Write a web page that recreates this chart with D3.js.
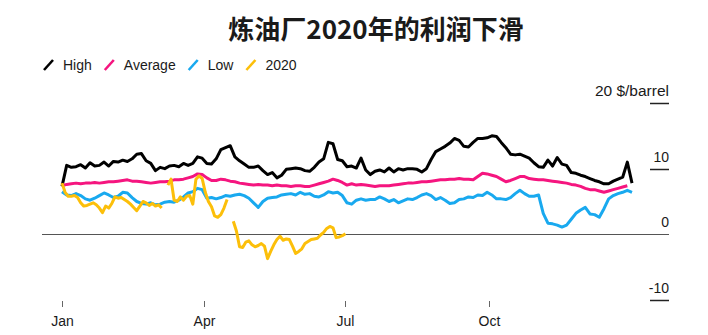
<!DOCTYPE html>
<html>
<head>
<meta charset="utf-8">
<script src="https://cdn.jsdelivr.net/npm/d3@7"></script>
<style>
  html, body { margin: 0; padding: 0; background: #fff; }
  svg { display: block; }
  text { font-family: "Liberation Sans", Arial, Helvetica, sans-serif; fill: #1a1a1a; }
  .title { font-family: "Noto Sans CJK SC", "Noto Sans", sans-serif; font-weight: 700; }
</style>
</head>
<body>
<svg id="chart" width="708" height="335"></svg>
<script>
// Refinery margins, $/barrel — 5-year high / average / low bands vs. 2020
const title = "炼油厂2020年的利润下滑";
const seriesNames = ["High", "Average", "Low", "2020"];
const seriesColors = ["#000000", "#f5157f", "#19a9ef", "#fcbf0a"];
const yTicks = [20, 10, 0, -10];
const unitLabel = "$/barrel";
const monthTicks = ["2020-01-01", "2020-04-01", "2020-07-01", "2020-10-01"];
const monthLabels = ["Jan", "Apr", "Jul", "Oct"];

// day-of-year offsets for each reading
const bandDays = d3.range(0, 367, 3);   // High / Average / Low
const daysOf2020 = d3.range(0, 183, 2); // 2020 (first half)

const high = [
  7.3, 10.5, 10.2, 10.3, 10.6, 10.1, 10.9, 10.4, 10.5, 11.0,
  10.4, 11.1, 11.0, 11.3, 11.1, 11.5, 12.2, 12.3, 11.2, 10.8,
  9.7, 10.2, 10.0, 10.4, 10.5, 10.3, 10.8, 10.5, 10.8, 11.8,
  11.6, 10.8, 10.7, 11.5, 12.9, 13.2, 13.5, 11.8, 11.2, 10.7,
  10.2, 10.2, 10.4, 9.7, 9.1, 9.4, 8.6, 9.0, 9.9, 10.0,
  10.1, 10.0, 9.7, 9.6, 10.2, 11.0, 11.5, 14.0, 13.8, 11.4,
  11.2, 10.3, 10.4, 10.1, 11.6, 9.8, 9.1, 9.6, 9.8, 9.5,
  10.1, 9.5, 10.0, 9.8, 10.0, 10.0, 9.9, 9.5, 10.0, 11.4,
  12.6, 13.0, 13.4, 13.9, 14.6, 14.3, 13.4, 13.3, 14.0, 14.6,
  14.6, 14.7, 15.0, 14.9, 14.0, 13.2, 12.2, 12.1, 12.2, 11.9,
  11.6, 10.9, 10.3, 10.2, 11.3, 10.4, 11.7, 10.7, 10.5, 9.4,
  9.3, 9.0, 8.8, 8.5, 8.2, 8.0, 7.7, 7.7, 8.1, 8.4,
  8.7, 11.0, 7.8
];

const average = [
  7.4, 7.6, 7.7, 7.8, 7.7, 7.8, 7.8, 7.9, 7.8, 7.9,
  8.0, 8.0, 8.1, 8.2, 8.3, 8.1, 8.1, 8.0, 7.9, 7.8,
  7.9, 8.0, 8.0, 8.1, 8.3, 8.3, 8.4, 8.6, 8.8, 9.2,
  9.1, 8.6, 8.2, 8.2, 8.4, 8.3, 8.1, 8.0, 7.8, 7.7,
  7.6, 7.5, 7.6, 7.5, 7.5, 7.4, 7.5, 7.4, 7.4, 7.3,
  7.4, 7.4, 7.3, 7.3, 7.5, 7.7, 7.9, 8.1, 8.4, 8.2,
  7.9, 7.5, 7.7, 7.5, 7.6, 7.5, 7.4, 7.3, 7.4, 7.4,
  7.4, 7.5, 7.6, 7.7, 7.8, 7.8, 7.9, 8.0, 8.0, 8.1,
  8.2, 8.3, 8.3, 8.4, 8.4, 8.5, 8.4, 8.4, 8.3, 8.8,
  9.3, 9.2, 9.0, 8.8, 8.4, 8.0, 8.2, 8.5, 8.8, 8.8,
  8.5, 8.4, 8.3, 8.3, 8.2, 8.1, 8.0, 7.9, 7.8, 7.6,
  7.5, 7.3, 7.0, 6.8, 6.8, 6.6, 6.4, 6.6, 6.8, 7.0,
  7.2, 7.4, null
];

const low = [
  6.5, 6.0, 5.9, 6.2, 5.9, 5.4, 5.2, 5.5, 5.9, 6.3,
  6.0, 5.6, 5.8, 6.4, 6.3, 5.6, 5.0, 4.7, 4.6, 4.8,
  4.5, 4.6, 4.9, 5.0, 4.9, 5.2, 5.7, 6.3, 6.5, 7.0,
  6.8, 5.5, 5.6, 5.4, 5.6, 5.9, 5.8, 6.0, 6.1, 5.9,
  5.5, 4.8, 4.1, 5.0, 5.5, 5.6, 5.7, 6.0, 6.1, 6.2,
  6.0, 6.4, 6.1, 6.2, 5.8, 5.7, 6.0, 6.5, 6.3, 6.4,
  5.9, 4.8, 4.6, 5.2, 5.4, 5.2, 5.3, 5.3, 5.7, 5.4,
  5.0, 5.3, 4.8, 5.1, 5.4, 5.3, 5.6, 6.0, 6.2, 5.9,
  5.3, 5.6, 5.2, 4.7, 4.8, 5.3, 5.4, 5.7, 5.6, 6.0,
  5.9, 6.4, 6.0, 5.4, 5.4, 5.3, 5.6, 6.2, 6.7, 6.2,
  5.8, 5.8, 6.0, 3.2, 1.7, 1.6, 1.4, 1.1, 1.4, 2.3,
  3.2, 3.7, 4.1, 3.1, 3.0, 2.6, 3.9, 5.4, 5.9, 6.2,
  6.4, 6.7, 6.4
];

const margin2020 = [
  7.8, 6.4, 5.8, 5.8, 5.9, 5.6, 4.8, 4.3, 4.4, 4.6,
  4.8, 4.5, 4.0, 3.3, 4.3, 4.0, 4.7, 5.7, 5.5, 5.6,
  5.3, 5.0, 4.6, 4.1, 3.6, 4.3, 5.0, 4.8, 4.4, 4.7,
  4.3, 4.5, 4.0, null, 7.5, 8.4, 5.2, 5.0, 5.7, 5.2,
  5.8, 5.9, 4.6, 8.4, 8.9, 8.5, 6.4, 5.0, 4.2, 2.8,
  2.6, 3.0, 4.0, 5.3, null, 2.0, 0.5, -1.9, -2.0, -1.2,
  -1.0, -1.6, -1.9, -1.7, -1.4, -1.8, -3.7, -2.6, -1.6, -0.8,
  -0.3, -0.9, -0.7, -0.8, -1.8, -2.9, -2.6, -2.2, -1.4, -1.1,
  -0.8, -0.7, -0.6, -0.1, 0.3, 0.9, 1.2, 1.0, -0.5, -0.4,
  -0.2, 0.1
];

const start = new Date(2020, 0, 1);
const toDate = d => d3.timeDay.offset(start, d);

const series = [
  { name: seriesNames[0], color: seriesColors[0], days: bandDays, values: high },
  { name: seriesNames[1], color: seriesColors[1], days: bandDays, values: average },
  { name: seriesNames[2], color: seriesColors[2], days: bandDays, values: low },
  { name: seriesNames[3], color: seriesColors[3], days: daysOf2020, values: margin2020 }
].map(s => ({ ...s, points: s.values.map((v, i) => ({ date: toDate(s.days[i]), v })) }));

const svg = d3.select("#chart");

const x = d3.scaleTime()
  .domain([start, new Date(2021, 0, 1)])
  .range([62, 632]);

const y = d3.scaleLinear()
  .domain([-10, 20])
  .range([300, 103]);

const axisRight = 669;

// Title
svg.append("text")
  .attr("class", "title")
  .attr("x", 376)
  .attr("y", 39)
  .attr("text-anchor", "middle")
  .attr("font-size", 26)
  .attr("fill", "#111")
  .text(title);

// Legend
const legend = svg.append("g").attr("transform", "translate(43,65)");
let lx = 0;
series.forEach(s => {
  const g = legend.append("g").attr("transform", `translate(${lx},0)`);
  g.append("line")
    .attr("x1", 1).attr("y1", 5).attr("x2", 10).attr("y2", -5)
    .attr("stroke", s.color).attr("stroke-width", 2.6);
  const t = g.append("text")
    .attr("x", 20).attr("y", 5)
    .attr("font-size", 14)
    .text(s.name);
  lx += 20 + t.node().getComputedTextLength() + 12;
});

// Horizontal tick marks + labels on the right
const yAxis = svg.append("g");
yTicks.forEach(t => {
  const yy = Math.round(y(t)) + 0.5;
  yAxis.append("line")
    .attr("x1", t === 0 ? 42 : 650).attr("x2", axisRight)
    .attr("y1", yy).attr("y2", yy)
    .attr("stroke", t === 0 ? "#555" : "#222")
    .attr("stroke-width", t === 0 ? 1.2 : 1.5);
  yAxis.append("text")
    .attr("x", axisRight)
    .attr("y", yy - 8)
    .attr("text-anchor", "end")
    .attr("font-size", t === 20 ? 15.5 : 14)
    .text(t === 20 ? `${t} ${unitLabel}` : t);
});

// Month ticks along the bottom
const xAxis = svg.append("g");
monthTicks.forEach((m, i) => {
  const xx = Math.round(x(d3.timeParse("%Y-%m-%d")(m))) + 0.5;
  xAxis.append("line")
    .attr("x1", xx).attr("x2", xx)
    .attr("y1", 301).attr("y2", 307)
    .attr("stroke", "#666").attr("stroke-width", 1);
  xAxis.append("text")
    .attr("x", xx)
    .attr("y", 326)
    .attr("text-anchor", "middle")
    .attr("font-size", 14)
    .text(monthLabels[i]);
});

// Lines
const line = d3.line()
  .defined(d => d.v !== null)
  .x(d => x(d.date))
  .y(d => y(d.v));

svg.append("g")
  .selectAll("path")
  .data(series)
  .join("path")
  .attr("d", s => line(s.points))
  .attr("fill", "none")
  .attr("stroke", s => s.color)
  .attr("stroke-width", 3)
  .attr("stroke-linejoin", "round")
  .attr("stroke-linecap", "butt");
</script>
</body>
</html>
